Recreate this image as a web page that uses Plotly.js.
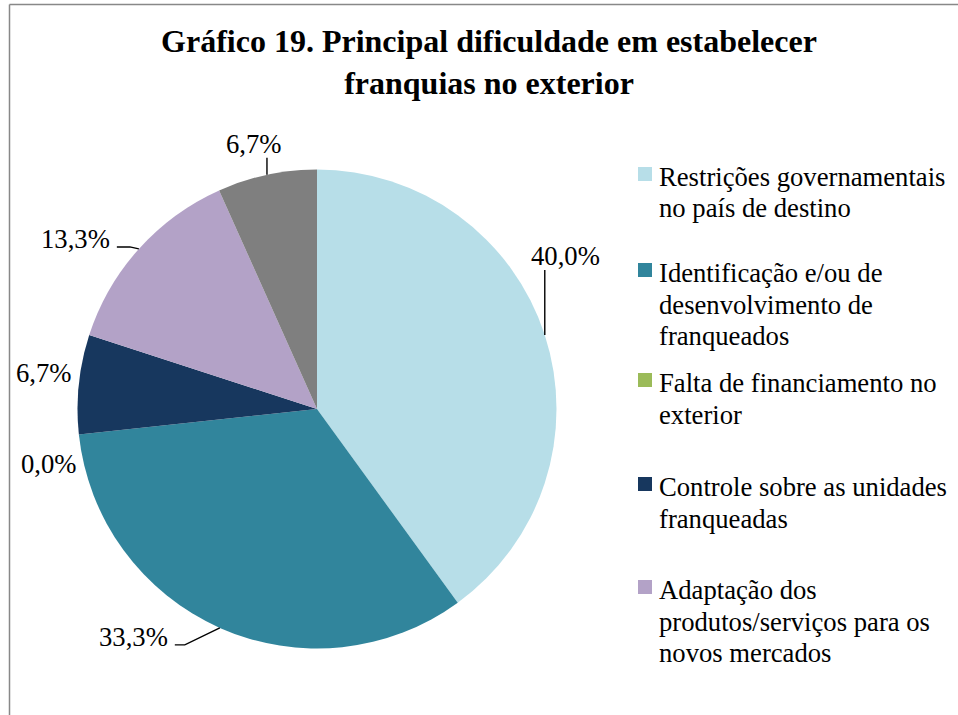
<!DOCTYPE html>
<html>
<head>
<meta charset="utf-8">
<script src="https://cdn.plot.ly/plotly-3.0.1.min.js"></script>
<style>html,body{margin:0;padding:0;background:#fff;}#chart{width:958px;height:715px;}</style>
</head>
<body>
<div id="chart"></div>
<script>
// ---- data ----
const categories = [
  "Restrições governamentais no país de destino",
  "Identificação e/ou de desenvolvimento de franqueados",
  "Falta de financiamento no exterior",
  "Controle sobre as unidades franqueadas",
  "Adaptação dos produtos/serviços para os novos mercados",
  "Outros"
];
const percents = [40.0, 33.3, 0.0, 6.7, 13.3, 6.7];
const colors = ["#B7DEE8", "#31859C", "#9BBB59", "#17375E", "#B3A2C7", "#7F7F7F"];
// legend text as shown (wrapped), only the visible entries
const legendLines = [
  ["Restrições governamentais", "no país de destino"],
  ["Identificação e/ou de", "desenvolvimento de", "franqueados"],
  ["Falta de financiamento no", "exterior"],
  ["Controle sobre as unidades", "franqueadas"],
  ["Adaptação dos", "produtos/serviços para os", "novos mercados"]
];
const titleLines = ["Gráfico 19. Principal dificuldade em estabelecer", "franquias no exterior"];

// ---- layout / style ----
const W = 958, H = 715;
const FONT = "Liberation Serif, Times New Roman, serif";
const domX = [77.5 / W, 556.5 / W];
const domY = [1 - 648.5 / H, 1 - 169.5 / H];
// label offsets (px) from the slice's outer mid point
const labelOffsets = [[21, -79], [-86, 9], [-30, 29], [-35, -11], [-63, -10], [-13, -31]];
// leader lines: attach point relative to label centre, horizontal elbow length (null = no leader)
const leaderStyle = [
  {attach: [-21, 14], elbow: 0, vertical: true},
  {attach: [41, 8], elbow: 10},
  null,
  null,
  {attach: [41, 8], elbow: 13},
  {attach: [13, 14], elbow: 0, vertical: true}
];

const cx = (domX[0] + domX[1]) / 2 * W;
const cy = (1 - (domY[0] + domY[1]) / 2) * H;
const r = Math.min((domX[1] - domX[0]) * W, (domY[1] - domY[0]) * H) / 2;
const toX = px => px / W, toY = py => 1 - py / H;

const total = percents.reduce((a, b) => a + b, 0);
const annotations = [];
const shapes = [];
let cum = 0;
percents.forEach((v, i) => {
  const th = 2 * Math.PI * (cum + v / 2) / total;
  cum += v;
  const px = cx + r * Math.sin(th);
  const py = cy - r * Math.cos(th);
  const [dx, dy] = labelOffsets[i];
  annotations.push({
    x: toX(px), y: toY(py), xref: "paper", yref: "paper",
    xanchor: "center", yanchor: "middle", xshift: dx, yshift: -dy,
    text: v.toFixed(1).replace(".", ",") + "%",
    showarrow: false,
    font: {family: FONT, size: 26.67, color: "#000"}
  });
  const ls = leaderStyle[i];
  if (ls) {
    let ax = px + dx + ls.attach[0], ay = py + dy + ls.attach[1];
    if (ls.vertical) ax = px;
    const ex = ax + ls.elbow;
    shapes.push({
      type: "path", xref: "paper", yref: "paper",
      path: `M ${toX(ax)} ${toY(ay)} L ${toX(ex)} ${toY(ay)} L ${toX(px)} ${toY(py)}`,
      line: {color: "#000", width: 1.4}
    });
  }
});

// custom legend
const legendY = [177, 273, 383, 487, 590];
const lineGap = 31.5;
legendLines.forEach((lines, i) => {
  lines.forEach((t, j) => {
    annotations.push({
      x: toX(657), y: toY(legendY[i] + j * lineGap), xref: "paper", yref: "paper",
      xanchor: "left", yanchor: "middle", showarrow: false, text: t,
      font: {family: FONT, size: 26.67, color: "#000"}
    });
  });
  shapes.push({
    type: "rect", xref: "paper", yref: "paper",
    x0: toX(638), x1: toX(652), y0: toY(legendY[i] - 10), y1: toY(legendY[i] + 4),
    fillcolor: colors[i], line: {width: 0}
  });
});

// chart area border (left and top edges visible)
shapes.push({type: "line", xref: "paper", yref: "paper", x0: toX(9.5), x1: toX(9.5), y0: toY(4.5), y1: toY(715),
  line: {color: "#888888", width: 1.5}});
shapes.push({type: "line", xref: "paper", yref: "paper", x0: toX(9.5), x1: toX(958), y0: toY(4.5), y1: toY(4.5),
  line: {color: "#888888", width: 1.5}});

const trace = {
  type: "pie",
  labels: categories,
  values: percents,
  marker: {colors: colors, line: {width: 0}},
  sort: false,
  direction: "clockwise",
  rotation: 0,
  textinfo: "none",
  hoverinfo: "label+percent",
  showlegend: false,
  domain: {x: domX, y: domY}
};

const layout = {
  width: W, height: H,
  margin: {l: 0, r: 0, t: 0, b: 0},
  paper_bgcolor: "#fff",
  showlegend: false,
  title: {
    text: "<b>" + titleLines.join("<br>") + "</b>",
    x: 489 / W, xanchor: "center", xref: "paper",
    y: 1 - 52 / H, yanchor: "middle", yref: "container",
    font: {family: FONT, size: 32, color: "#000"}
  },
  annotations: annotations,
  shapes: shapes
};

Plotly.newPlot("chart", [trace], layout, {displayModeBar: false, staticPlot: true});
</script>
</body>
</html>
